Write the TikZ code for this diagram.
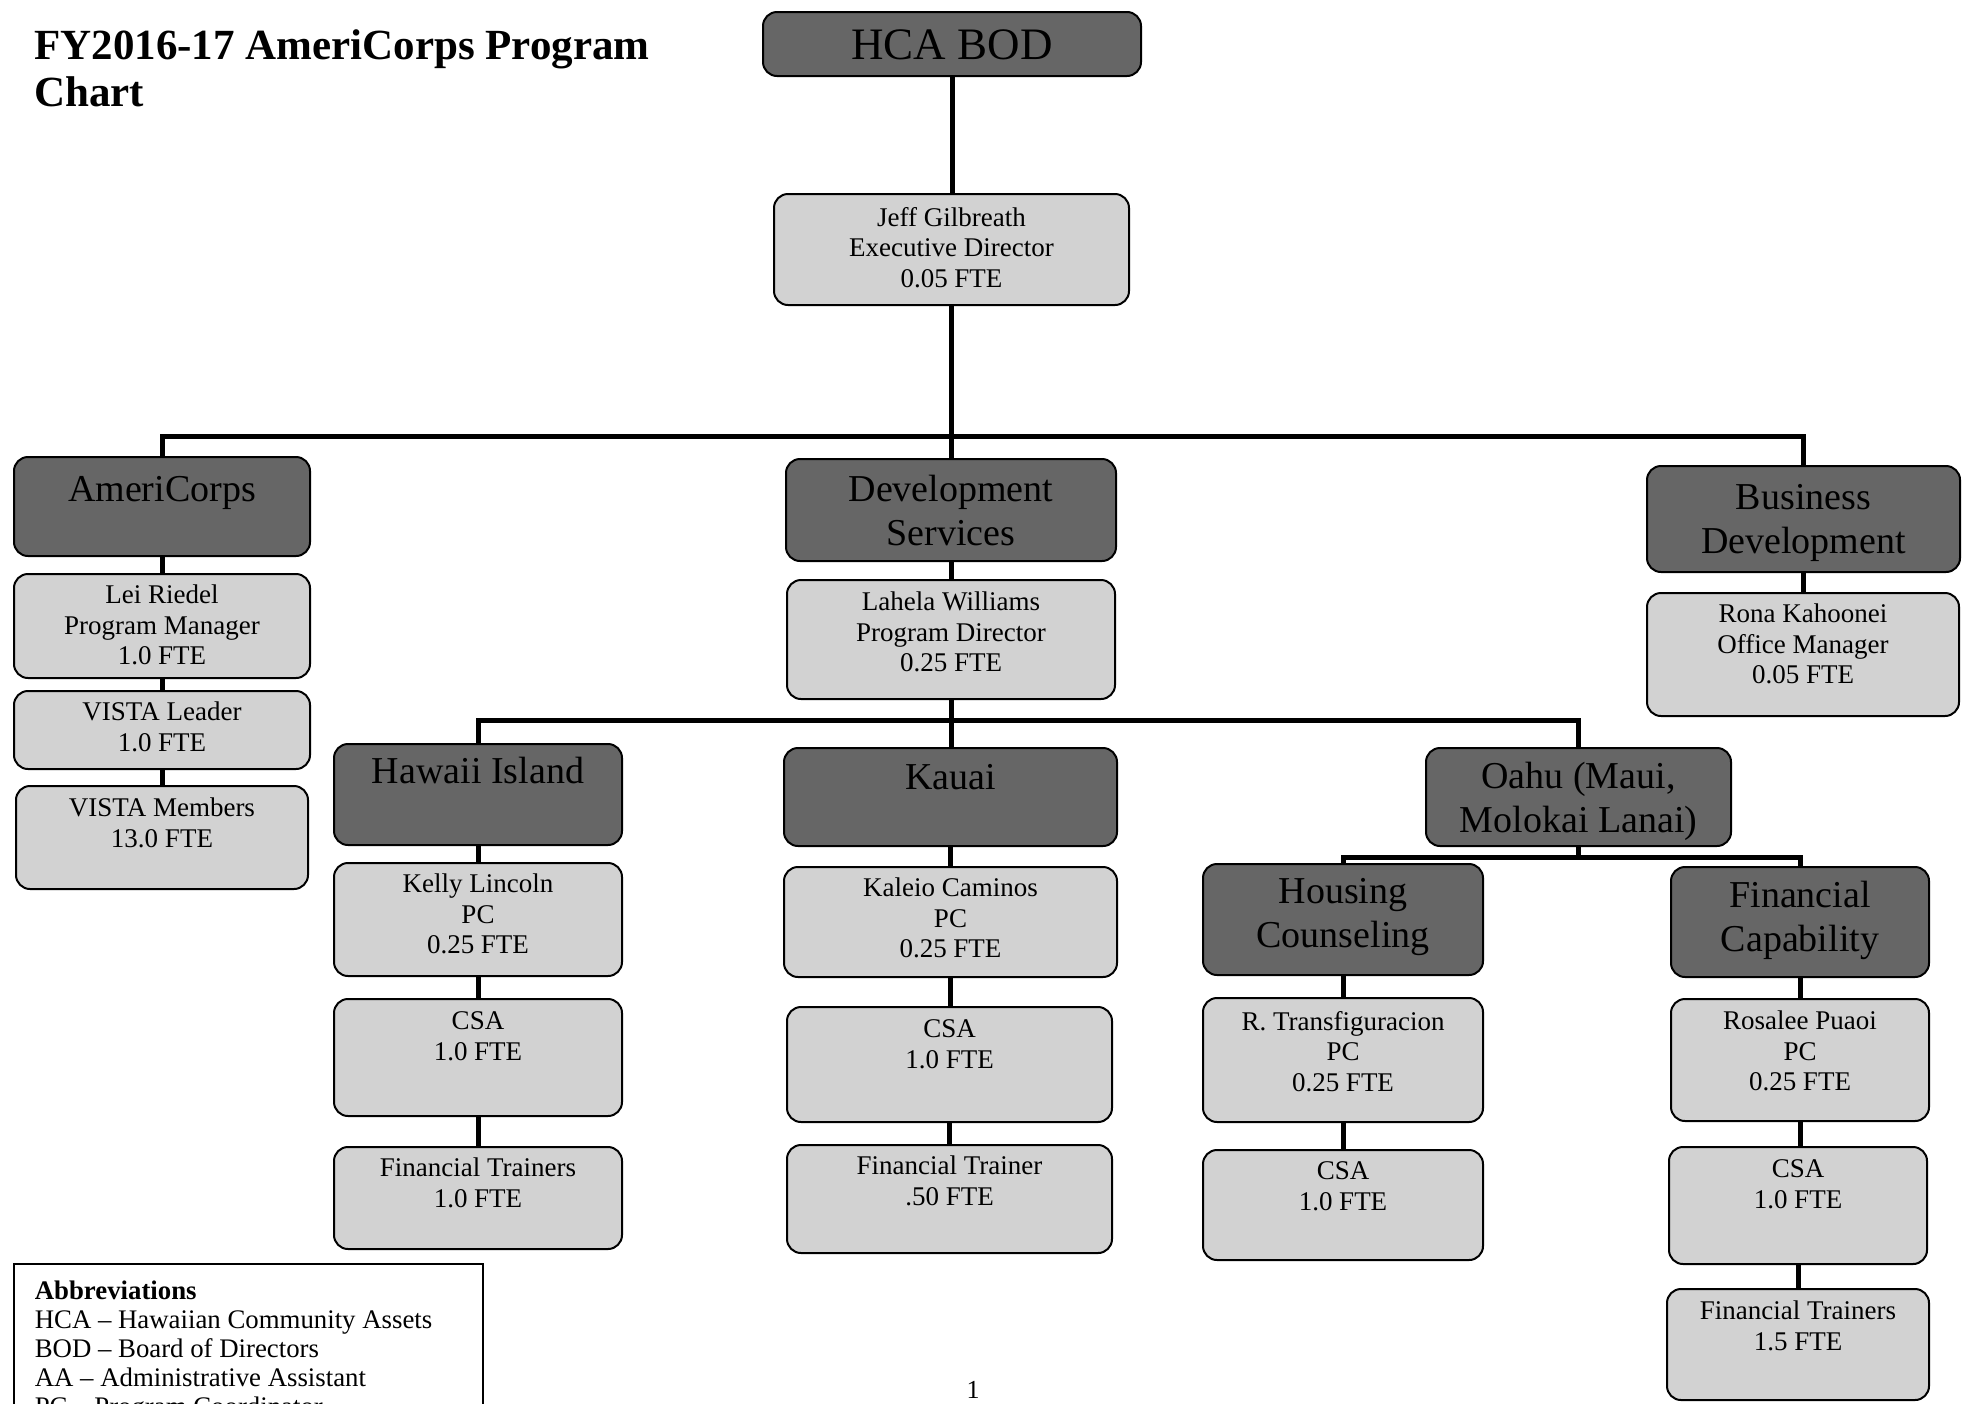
\documentclass[tikz,border=0pt]{standalone}
\usepackage{fontspec}
\setmainfont{Liberation Serif}
\definecolor{darkfill}{HTML}{666666}
\definecolor{lightfill}{HTML}{D2D2D2}
% #1 style, #2 name, #3 x1, #4 y1, #5 x2, #6 y2, #7 top offset, #8 text
\newcommand\cellnode[8]{\node[#1] (#2) at (#3,#4)
  {\parbox[c][\dimexpr #6pt-#4pt\relax][t]{\dimexpr #5pt-#3pt\relax}{\centering\vspace*{#7pt}\rule{0pt}{0.7em}#8\par}};}
\tikzset{
  cellbase/.style={draw=black, line width=2pt, rounded corners=14pt, inner sep=0pt, anchor=north west},
  lbox/.style={cellbase, fill=lightfill, font=\fontsize{27}{30.5}\selectfont},
  dbox/.style={cellbase, fill=darkfill, font=\fontsize{38}{44}\selectfont},
  topbox/.style={cellbase, fill=darkfill, font=\fontsize{45}{50}\selectfont},
  conn/.style={line width=5pt, black},
  titletext/.style={anchor=north west, inner sep=0pt, align=left, font=\fontsize{43}{47}\selectfont\bfseries},
  abbrbox/.style={draw=black, line width=1.6pt, inner sep=0pt, anchor=north west, fill=white, font=\fontsize{26.8}{29}\selectfont},
}
\begin{document}
\begin{tikzpicture}[x=1pt,y=-1pt]
\fill[white] (0,0) rectangle (1969,1403);
\clip (0,0) rectangle (1969,1403);

\node[titletext] (title) at (34,29.2) {\rule{0pt}{0.7em}FY2016-17 AmeriCorps Program\\Chart};

\cellnode{topbox}{hca}{762}{11}{1140}{75}{16.4}{HCA BOD}
\cellnode{lbox}{jeff}{773}{193}{1128}{304}{13}{Jeff Gilbreath\\Executive Director\\0.05 FTE}

\cellnode{dbox}{ameri}{13}{456}{309}{555}{18}{AmeriCorps}
\cellnode{lbox}{lei}{13}{573}{309}{677}{11}{Lei Riedel\\Program Manager\\1.0 FTE}
\cellnode{lbox}{vleader}{13}{690}{309}{768}{11}{VISTA Leader\\1.0 FTE}
\cellnode{lbox}{vmembers}{15}{785}{307}{888}{12}{VISTA Members\\13.0 FTE}

\cellnode{dbox}{dev}{785}{458}{1115}{560}{16}{Development\\Services}
\cellnode{lbox}{lahela}{786}{579}{1114}{698}{12}{Lahela Williams\\Program Director\\0.25 FTE}

\cellnode{dbox}{busdev}{1646}{465}{1959}{571}{17}{Business\\Development}
\cellnode{lbox}{rona}{1646}{592}{1958}{715}{11}{Rona Kahoonei\\Office Manager\\0.05 FTE}

\cellnode{dbox}{hawaii}{333}{743}{621}{844}{13}{Hawaii Island}
\cellnode{lbox}{kelly}{333}{862}{621}{975}{11}{Kelly Lincoln\\PC\\0.25 FTE}
\cellnode{lbox}{csaA}{333}{998}{621}{1115}{12}{CSA\\1.0 FTE}
\cellnode{lbox}{ftA}{333}{1146}{621}{1248}{11}{Financial Trainers\\1.0 FTE}

\cellnode{dbox}{kauai}{783}{747}{1116}{845}{15}{Kauai}
\cellnode{lbox}{kaleio}{783}{866}{1116}{976}{11}{Kaleio Caminos\\PC\\0.25 FTE}
\cellnode{lbox}{csaB}{786}{1006}{1111}{1121}{12}{CSA\\1.0 FTE}
\cellnode{lbox}{ftB}{786}{1144}{1111}{1252}{11}{Financial Trainer\\.50 FTE}

\cellnode{dbox}{oahu}{1425}{747}{1730}{845}{14}{Oahu (Maui,\\Molokai Lanai)}
\cellnode{dbox}{housing}{1202}{863}{1482}{974}{13}{Housing\\Counseling}
\cellnode{lbox}{rtrans}{1202}{997}{1482}{1121}{13}{R. Transfiguracion\\PC\\0.25 FTE}
\cellnode{lbox}{csaC}{1202}{1149}{1482}{1259}{11}{CSA\\1.0 FTE}

\cellnode{dbox}{fincap}{1670}{866}{1928}{976}{14}{Financial\\Capability}
\cellnode{lbox}{rosalee}{1670}{998}{1928}{1120}{12}{Rosalee Puaoi\\PC\\0.25 FTE}
\cellnode{lbox}{csaD}{1668}{1146}{1926}{1263}{12}{CSA\\1.0 FTE}
\cellnode{lbox}{ftD}{1666}{1288}{1928}{1399}{12}{Financial Trainers\\1.5 FTE}

\node[abbrbox] (abbr) at (13,1263) {\parbox[c][200pt][t]{469pt}{\raggedright\leftskip=21pt\relax\vspace*{17pt}\rule{0pt}{0.7em}\textbf{Abbreviations}\\HCA -- Hawaiian Community Assets\\BOD -- Board of Directors\\AA -- Administrative Assistant\\PC -- Program Coordinator\par}};

\node[font=\fontsize{26}{29}\selectfont, inner sep=0pt] (pg) at (973,1390) {1};

\coordinate (b1) at (0,436);
\coordinate (b2) at (0,720);
\coordinate (b3) at (0,857);

\draw[conn] (hca.south) -- (hca.south |- jeff.north);
\draw[conn] (jeff.south) -- (jeff.south |- dev.north);
\draw[conn] (jeff.south |- b1) -| (ameri.north);
\draw[conn] (jeff.south |- b1) -| (busdev.north);

\draw[conn] (ameri.south) -- (ameri.south |- lei.north);
\draw[conn] (lei.south) -- (lei.south |- vleader.north);
\draw[conn] (vleader.south) -- (vleader.south |- vmembers.north);

\draw[conn] (dev.south) -- (dev.south |- lahela.north);
\draw[conn] (busdev.south) -- (busdev.south |- rona.north);

\draw[conn] (lahela.south) -- (lahela.south |- kauai.north);
\draw[conn] (lahela.south |- b2) -| (hawaii.north);
\draw[conn] (lahela.south |- b2) -| (oahu.north);

\draw[conn] (hawaii.south) -- (hawaii.south |- kelly.north);
\draw[conn] (kelly.south) -- (kelly.south |- csaA.north);
\draw[conn] (csaA.south) -- (csaA.south |- ftA.north);

\draw[conn] (kauai.south) -- (kauai.south |- kaleio.north);
\draw[conn] (kaleio.south) -- (kaleio.south |- csaB.north);
\draw[conn] (csaB.south) -- (csaB.south |- ftB.north);

\draw[conn] (oahu.south) -- (oahu.south |- b3) -| (housing.north);
\draw[conn] (oahu.south |- b3) -| (fincap.north);

\draw[conn] (housing.south) -- (housing.south |- rtrans.north);
\draw[conn] (rtrans.south) -- (rtrans.south |- csaC.north);

\draw[conn] (fincap.south) -- (fincap.south |- rosalee.north);
\draw[conn] (rosalee.south) -- (rosalee.south |- csaD.north);
\draw[conn] (csaD.south) -- (csaD.south |- ftD.north);
\end{tikzpicture}
\end{document}
